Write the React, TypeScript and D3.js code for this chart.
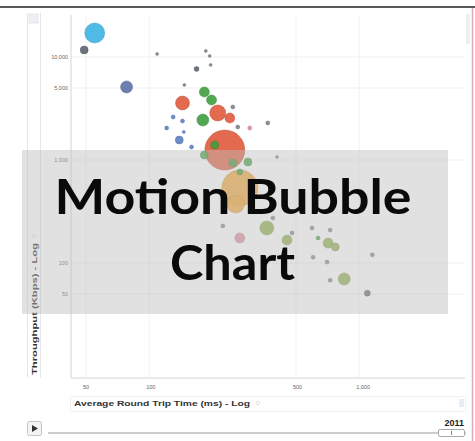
import React from "react";
import * as d3 from "d3";

// ---- data ----
const rtt = [55, 49, 78, 109, 186, 194, 168, 196, 147, 144, 183, 198, 212, 242, 180, 130, 144, 121, 146, 139, 159, 229, 250, 264, 301, 367, 270, 258, 183, 250, 295, 406, 363, 270, 224, 453, 479, 603, 637, 596, 727, 711, 769, 703, 727, 848, 1155, 1093, 388, 205, 270];
const throughput = [17100, 11700, 5120, 10700, 11440, 10220, 7650, 8360, 5350, 3577, 4570, 3823, 2860, 2557, 2445, 2615, 2390, 2045, 1870, 1563, 1337, 1250, 3270, 2092, 2045, 2287, 535, 374, 1118, 935, 956, 1069, 219, 175, 229, 167, 196, 114, 175, 219, 209, 156, 143, 102, 68, 70, 120, 51, 274, 1398, 765];
const bubbleSize = [1000, 160, 360, 22, 22, 22, 62, 22, 22, 490, 250, 250, 640, 250, 360, 40, 40, 40, 22, 160, 40, 4000, 40, 40, 40, 40, 3240, 810, 160, 160, 160, 22, 490, 250, 40, 250, 40, 40, 40, 40, 40, 250, 160, 40, 40, 360, 40, 90, 40, 160, 90];
const group = ["cyan", "dark", "slate", "gray", "gray", "gray", "dark", "gray", "gray", "red", "green", "green", "red", "red", "green", "blue", "blue", "blue", "blue", "blue", "blue", "red", "gray", "gray", "pink", "gray", "orange", "orange", "green", "green", "green", "gray", "olive", "pink", "gray", "olive", "gray", "gray", "green", "gray", "gray", "olive", "olive", "gray", "gray", "olive", "gray", "dark", "gray", "green", "green"];

const groups = ["cyan", "slate", "dark", "gray", "red", "green", "blue", "orange", "olive", "pink"];
const groupColors = ["#3db3e3", "#5d70a8", "#5c6470", "#7d838b", "#e05a3c", "#3f9e3f", "#5b7fc4", "#f3a535", "#8cac48", "#dd8b9a"];

const xTicks = [50, 100, 500, 1000];
const yTicks = [50, 100, 1000, 5000, 10000];
const year = "2011";
const xTitle = "Average Round Trip Time (ms) - Log";
const yTitle = "Throughput (Kbps) - Log";

export default function App() {
  const W = 475, H = 441;
  const left = 71, right = 465, top = 15, bottom = 378;
  const x = d3.scaleLog().domain([42.4, 3190]).range([left, right]);
  const y = d3.scaleLog().domain([7.65, 25570]).range([bottom, top]);
  const r = d3.scaleSqrt().domain([0, 4000]).range([0, 20]);
  const color = d3.scaleOrdinal<string, string>().domain(groups).range(groupColors);
  const fmt = d3.format(",");

  const pts = rtt.map((v, i) => ({ x: v, y: throughput[i], s: bubbleSize[i], g: group[i] }));
  pts.sort((a, b) => b.s - a.s);

  return (
    <svg width={W} height={H} style={{ position: "absolute", left: 0, top: 0, background: "#fff" }}
      fontFamily="Arial, 'Liberation Sans', sans-serif">
      {/* frame */}
      <rect x={0} y={6} width={W} height={2} fill="#5a5a5a" />
      <line x1={472.5} y1={8} x2={472.5} y2={H} stroke="#e2a6b4" strokeWidth={1.5} />
      {/* y-axis selector strip */}
      <line x1={27.5} y1={13} x2={27.5} y2={378} stroke="#e6e6e6" />
      <line x1={40.5} y1={13} x2={40.5} y2={378} stroke="#e6e6e6" />
      <rect x={29} y={14} width={9} height={9} fill="#eef0f4" stroke="#d8dbe2" strokeWidth={0.6} />
      {/* right scroll thing */}
      <rect x={466} y={14} width={4} height={30} fill="#efefef" />
      {/* grid */}
      {yTicks.map((t) => (
        <line key={"gy" + t} x1={left} x2={right} y1={y(t)} y2={y(t)} stroke="#efefef" />
      ))}
      {xTicks.map((t) => (
        <line key={"gx" + t} x1={x(t)} x2={x(t)} y1={top} y2={bottom} stroke="#f1f1f1" />
      ))}
      <line x1={left} x2={left} y1={top} y2={bottom} stroke="#d4d4d4" />
      <line x1={left} x2={right} y1={bottom} y2={bottom} stroke="#d4d4d4" />
      {/* tick labels */}
      {yTicks.map((t) => (
        <text key={"ly" + t} x={68} y={y(t) + 2} textAnchor="end" fontSize={5.5} fill="#666">{fmt(t)}</text>
      ))}
      {xTicks.map((t) => (
        <text key={"lx" + t} x={x(t) - 3} y={389} textAnchor="start" fontSize={5.5} fill="#666">{fmt(t)}</text>
      ))}
      {/* bubbles */}
      {pts.map((p, i) => {
        const c = color(p.g);
        return (
          <circle key={i} cx={x(p.x)} cy={y(p.y)} r={r(p.s)} fill={c} fillOpacity={0.9}
            stroke={d3.color(c)!.darker(0.6).formatHex()} strokeWidth={0.6} strokeOpacity={0.7} />
        );
      })}
      {/* axis titles */}
      <text transform="translate(37,309) rotate(-90)" textAnchor="middle" fontSize={8} fontWeight="bold" fill="#333"
        textLength={132} lengthAdjust="spacingAndGlyphs">{yTitle}</text>
      <circle cx={34} cy={236} r={1.8} fill="none" stroke="#ccc" strokeWidth={0.6} />
      <rect x={70.5} y={396.5} width={395} height={15} fill="none" stroke="#f0f0f0" />
      <text x={74} y={406} fontSize={8} fontWeight="bold" fill="#333" textLength={176} lengthAdjust="spacingAndGlyphs">{xTitle}</text>
      <circle cx={258} cy={403} r={1.8} fill="none" stroke="#ccc" strokeWidth={0.6} />
      <rect x={459} y={399} width={5} height={8} fill="#e8ecf4" />
      {/* play controls */}
      <rect x={27.5} y={421.5} width={14} height={14} rx={2} fill="#f4f4f4" stroke="#c4c4c4" />
      <path d="M32,425 L38,428.5 L32,432 Z" fill="#333" />
      <line x1={48} x2={466} y1={433} y2={433} stroke="#bdbdbd" strokeWidth={1.5} />
      <rect x={438.5} y={429.5} width={26} height={7} rx={1.5} fill="#fff" stroke="#aaa" />
      <line x1={451.5} x2={451.5} y1={431} y2={435} stroke="#888" />
      <text x={464} y={426} textAnchor="end" fontSize={9} fontWeight="bold" fill="#222">{year}</text>
      {/* overlay */}
      <rect x={22} y={150} width={426} height={164} fill="#bdbdbd" fillOpacity={0.46} />
      <text x={233} y={214} textAnchor="middle" fontFamily="Lato, 'Open Sans', sans-serif" fontSize={47}
        fontWeight="bold" fill="#0a0a0a" textLength={357} lengthAdjust="spacingAndGlyphs">Motion Bubble</text>
      <text x={232.5} y={280} textAnchor="middle" fontFamily="Lato, 'Open Sans', sans-serif" fontSize={47}
        fontWeight="bold" fill="#0a0a0a" textLength={125} lengthAdjust="spacingAndGlyphs">Chart</text>
    </svg>
  );
}
